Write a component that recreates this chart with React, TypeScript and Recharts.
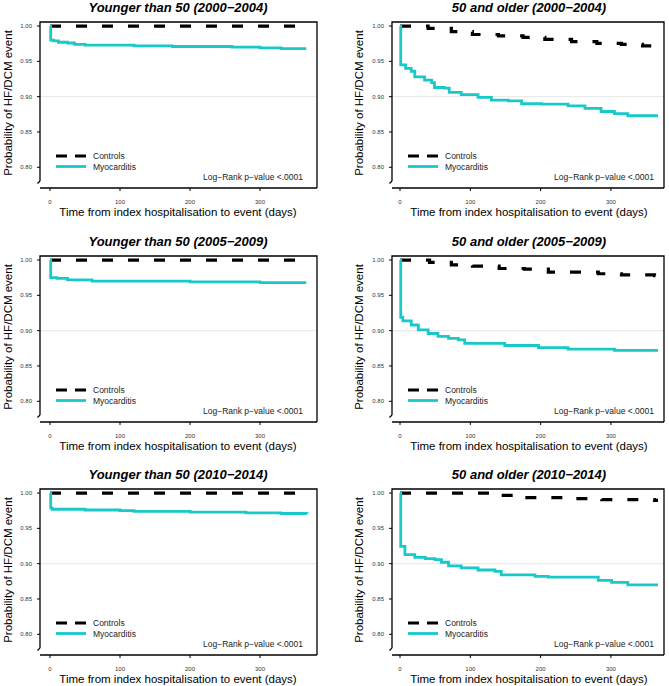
import React from 'react'
import { LineChart, Line, XAxis, YAxis, ReferenceLine } from 'recharts'

const FONT = '"Liberation Sans", Arial, sans-serif'
const CYAN = '#19c9c9'

const yTicks = [0.8, 0.85, 0.9, 0.95, 1.0]
const xTicks = [0, 100, 200, 300]

const titles = [
    'Younger than 50 (2000\u22122004)',
    '50 and older (2000\u22122004)',
    'Younger than 50 (2005\u22122009)',
    '50 and older (2005\u22122009)',
    'Younger than 50 (2010\u22122014)',
    '50 and older (2010\u22122014)',
]

// panel A: younger 2000-2004
const ctrlADays = [0, 365]
const ctrlASurv = [1, 1]
const myoADays = [0, 1, 5, 12, 25, 35, 50, 120, 175, 260, 300, 330, 366]
const myoASurv = [1, 0.98, 0.979, 0.977, 0.976, 0.974, 0.973, 0.972, 0.971, 0.97, 0.969, 0.968, 0.968]

// panel B: 50+ 2000-2004
const ctrlBDays = [0, 40, 73, 103, 140, 175, 206, 244, 280, 315, 345, 358, 367]
const ctrlBSurv = [1, 0.9967, 0.992, 0.988, 0.986, 0.984, 0.981, 0.978, 0.9755, 0.974, 0.972, 0.97, 0.97]
const myoBDays = [0, 1, 8, 16, 21, 35, 45, 49, 63, 70, 87, 111, 130, 154, 173, 201, 239, 263, 286, 305, 324, 367]
const myoBSurv = [1, 0.945, 0.94, 0.936, 0.928, 0.9235, 0.92, 0.913, 0.912, 0.906, 0.903, 0.899, 0.895, 0.894, 0.89, 0.8895, 0.887, 0.8835, 0.879, 0.876, 0.873, 0.873]

// panel C: younger 2005-2009
const ctrlCDays = [0, 365]
const ctrlCSurv = [1, 1]
const myoCDays = [0, 1, 10, 25, 60, 120, 200, 300, 366]
const myoCSurv = [1, 0.975, 0.974, 0.972, 0.97, 0.97, 0.969, 0.968, 0.968]

// panel D: 50+ 2005-2009
const ctrlDDays = [0, 42, 73, 103, 141, 177, 211, 282, 315, 362, 367]
const ctrlDSurv = [1, 0.9967, 0.993, 0.9915, 0.988, 0.987, 0.983, 0.9806, 0.979, 0.978, 0.978]
const myoDDays = [0, 1, 4, 16, 26, 40, 54, 69, 83, 92, 149, 197, 239, 305, 367]
const myoDSurv = [1, 0.919, 0.914, 0.908, 0.901, 0.896, 0.892, 0.889, 0.887, 0.882, 0.879, 0.876, 0.874, 0.872, 0.872]

// panel E: younger 2010-2014
const ctrlEDays = [0, 365]
const ctrlESurv = [1, 1]
const myoEDays = [0, 1, 3, 50, 100, 120, 200, 280, 330, 367]
const myoESurv = [1, 0.979, 0.977, 0.976, 0.975, 0.974, 0.973, 0.972, 0.971, 0.9705]

// panel F: 50+ 2010-2014
const ctrlFDays = [0, 144, 173, 239, 287, 362, 367]
const ctrlFSurv = [1, 0.9967, 0.9934, 0.992, 0.9906, 0.9896, 0.9896]
const myoFDays = [0, 1, 7, 21, 36, 50, 59, 69, 87, 111, 135, 144, 192, 211, 282, 301, 324, 367]
const myoFSurv = [1, 0.9245, 0.9127, 0.909, 0.907, 0.9056, 0.902, 0.897, 0.894, 0.891, 0.889, 0.884, 0.882, 0.881, 0.8764, 0.8735, 0.87, 0.87]

const toPoints = (days: number[], surv: number[]) => days.map((d, i) => ({ day: d, surv: surv[i] }))

const panels = [
    { ctrl: toPoints(ctrlADays, ctrlASurv), myo: toPoints(myoADays, myoASurv) },
    { ctrl: toPoints(ctrlBDays, ctrlBSurv), myo: toPoints(myoBDays, myoBSurv) },
    { ctrl: toPoints(ctrlCDays, ctrlCSurv), myo: toPoints(myoCDays, myoCSurv) },
    { ctrl: toPoints(ctrlDDays, ctrlDSurv), myo: toPoints(myoDDays, myoDSurv) },
    { ctrl: toPoints(ctrlEDays, ctrlESurv), myo: toPoints(myoEDays, myoESurv) },
    { ctrl: toPoints(ctrlFDays, ctrlFSurv), myo: toPoints(myoFDays, myoFSurv) },
]

const rowTops = [0, 234, 467]
const cols = [
    { left: 0, width: 335, axisW: 40, right: 18, domain: [-14.3, 381.4] },
    { left: 351, width: 318, axisW: 41, right: 5, domain: [-11.4, 375.5] },
]

const H = 225
const TOP = 22
const BOTTOM = 188

type PanelProps = {
    idx: number
}

const Panel = ({ idx }: PanelProps) => {
    const col = cols[idx % 2]
    const top = rowTops[Math.floor(idx / 2)]
    const p = panels[idx]
    const ax = col.axisW
    const rx = col.width - col.right
    return (
        <div style={{ position: 'absolute', left: col.left, top, width: col.width, height: H }}>
            <LineChart width={col.width} height={H} margin={{ top: TOP, right: col.right, left: 0, bottom: 7 }}>
                <XAxis
                    type='number'
                    dataKey='day'
                    domain={col.domain}
                    allowDataOverflow
                    ticks={xTicks}
                    height={30}
                    tickSize={3}
                    tickMargin={9}
                    tick={{ fontSize: 6, fill: '#333', fontFamily: FONT }}
                    axisLine={{ stroke: '#000', strokeWidth: 1.3 }}
                    tickLine={{ stroke: '#000' }}
                />
                <YAxis
                    type='number'
                    domain={[0.7707, 1.0057]}
                    allowDataOverflow
                    ticks={yTicks}
                    width={ax}
                    tickSize={3}
                    tickMargin={5}
                    tickFormatter={(v: number) => v.toFixed(2)}
                    tick={{ fontSize: 6, fill: '#333', fontFamily: FONT }}
                    axisLine={false}
                    tickLine={{ stroke: '#000' }}
                />
                <ReferenceLine y={0.9} stroke='#e6e6e6' strokeWidth={1} />
                <Line
                    data={p.ctrl}
                    dataKey='surv'
                    type='stepAfter'
                    stroke='#000'
                    strokeWidth={3.2}
                    strokeDasharray='11 15'
                    dot={false}
                    isAnimationActive={false}
                />
                <Line
                    data={p.myo}
                    dataKey='surv'
                    type='stepAfter'
                    stroke={CYAN}
                    strokeWidth={2.8}
                    dot={false}
                    isAnimationActive={false}
                />
            </LineChart>
            <svg
                width={col.width}
                height={H}
                style={{ position: 'absolute', left: 0, top: 0, pointerEvents: 'none', fontFamily: FONT }}
            >
                <path d={`M${ax},${BOTTOM - 7} L${ax},${TOP} L${rx},${TOP} L${rx},${BOTTOM}`} fill='none' stroke='#000' strokeWidth={1.3} />
                <path d={`M${ax},${BOTTOM - 7} L${ax - 2.5},${BOTTOM - 4.5}`} fill='none' stroke='#000' strokeWidth={1.3} />
                <text x={178} y={7} textAnchor='middle' dominantBaseline='central' fontSize={13} fontWeight='bold' fontStyle='italic'>
                    {titles[idx]}
                </text>
                <text x={7.5} y={103} textAnchor='middle' dominantBaseline='central' fontSize={11.5} transform={`rotate(-90 7.5 103)`}>
                    Probability of HF/DCM event
                </text>
                <text x={178} y={212} textAnchor='middle' dominantBaseline='central' fontSize={11.5}>
                    Time from index hospitalisation to event (days)
                </text>
                <line x1={ax + 16} x2={ax + 46} y1={156} y2={156} stroke='#000' strokeWidth={3.2} strokeDasharray='11 8' />
                <line x1={ax + 16} x2={ax + 46} y1={166.5} y2={166.5} stroke={CYAN} strokeWidth={2.8} />
                <text x={ax + 53} y={156} dominantBaseline='central' fontSize={8.5} fill='#222'>Controls</text>
                <text x={ax + 53} y={166.5} dominantBaseline='central' fontSize={8.5} fill='#222'>Myocarditis</text>
                <text x={303} y={177} textAnchor='end' dominantBaseline='central' fontSize={8.5} fill='#222'>
                    Log{'\u2212'}Rank p{'\u2212'}value {'<'}.0001
                </text>
            </svg>
        </div>
    )
}

export default function App() {
    return (
        <div style={{ position: 'absolute', left: 0, top: 0, width: 669, height: 686, background: '#fff', overflow: 'hidden' }}>
            {panels.map((_, i) => (
                <Panel key={i} idx={i} />
            ))}
        </div>
    )
}
